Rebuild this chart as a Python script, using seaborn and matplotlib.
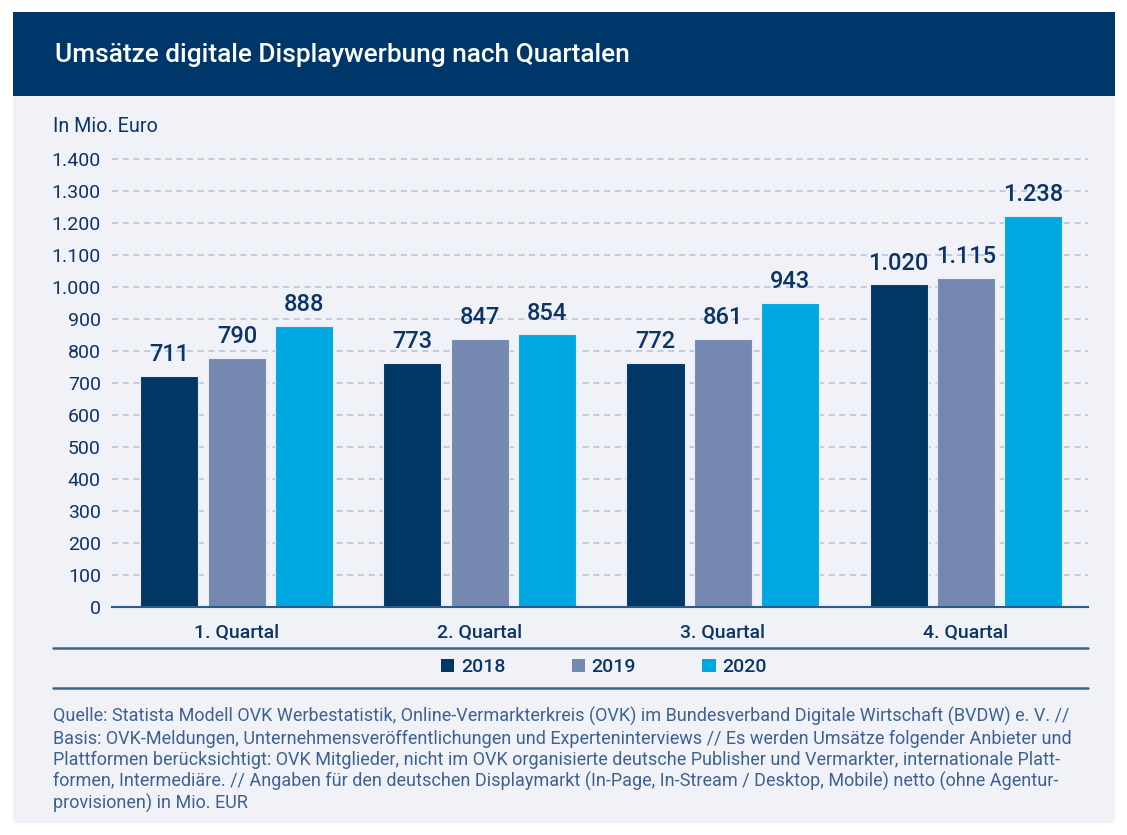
import matplotlib
matplotlib.use("Agg")
import matplotlib.pyplot as plt
from matplotlib.patches import Rectangle, Patch
from matplotlib.lines import Line2D
import seaborn as sns
import pandas as pd

# ---- data ----
quarters = ["1. Quartal", "2. Quartal", "3. Quartal", "4. Quartal"]
years = ["2018", "2019", "2020"]
# bar heights as drawn in the picture
bars_2018 = [723, 764, 764, 1008]
bars_2019 = [779, 839, 839, 1029]
bars_2020 = [879, 852, 951, 1223]
# value labels printed above the bars
labels_2018 = ["711", "773", "772", "1.020"]
labels_2019 = ["790", "847", "861", "1.115"]
labels_2020 = ["888", "854", "943", "1.238"]
y_ticks = [0, 100, 200, 300, 400, 500, 600, 700, 800, 900, 1000, 1100, 1200, 1300, 1400]
y_tick_labels = ["0", "100", "200", "300", "400", "500", "600", "700", "800", "900",
                 "1.000", "1.100", "1.200", "1.300", "1.400"]

title = "Umsätze digitale Displaywerbung nach Quartalen"
unit = "In Mio. Euro"
footer = [
    "Quelle: Statista Modell OVK Werbestatistik, Online-Vermarkterkreis (OVK) im Bundesverband Digitale Wirtschaft (BVDW) e. V. //",
    "Basis: OVK-Meldungen, Unternehmensveröffentlichungen und Experteninterviews // Es werden Umsätze folgender Anbieter und",
    "Plattformen berücksichtigt: OVK Mitglieder, nicht im OVK organisierte deutsche Publisher und Vermarkter, internationale Platt-",
    "formen, Intermediäre. // Angaben für den deutschen Displaymarkt (In-Page, In-Stream / Desktop, Mobile) netto (ohne Agentur-",
    "provisionen) in Mio. EUR",
]

colors = ["#003764", "#7589b0", "#00a8e2"]
NAVY = "#0b3566"
HEADER = "#00376a"
PANEL = "#f0f2f8"
FOOT = "#3d6190"
GRID = "#b9c0d8"

sns.set_theme(style="white")
plt.rcParams["font.family"] = ["Roboto", "DejaVu Sans"]

W, H = 1127, 835
fig = plt.figure(figsize=(W / 100, H / 100), dpi=100)
fig.patch.set_facecolor("white")

def fx(px):
    return px / W

def fy(py):
    return 1 - py / H

# panel and header
fig.patches.append(Rectangle((fx(13), fy(823)), fx(1115) - fx(13), fy(12) - fy(823),
                             transform=fig.transFigure, facecolor=PANEL, edgecolor="none", zorder=-10))
fig.patches.append(Rectangle((fx(13), fy(96)), fx(1115) - fx(13), fy(12) - fy(96),
                             transform=fig.transFigure, facecolor=HEADER, edgecolor="none", zorder=-9))
fig.text(fx(55), fy(55), title, color="white", fontsize=18.9, fontweight="medium",
         va="center", ha="left")
fig.text(fx(53), fy(126), unit, color=NAVY, fontsize=14.2, va="center", ha="left")

# axes
ymax = 1450
px_per_unit = 0.32
ax_left, ax_right = 112, 1088
ax_bottom = 607
ax_top = ax_bottom - ymax * px_per_unit
ax = fig.add_axes([fx(ax_left), fy(ax_bottom), fx(ax_right) - fx(ax_left), fy(ax_top) - fy(ax_bottom)])
ax.set_facecolor("none")
ax.set_zorder(5)

df = pd.DataFrame({
    "Quartal": quarters * 3,
    "Jahr": [years[0]] * 4 + [years[1]] * 4 + [years[2]] * 4,
    "Wert": bars_2018 + bars_2019 + bars_2020,
})
sns.barplot(data=df, x="Quartal", y="Wert", hue="Jahr", hue_order=years,
            palette=colors, saturation=1, width=0.833, gap=0.14, ax=ax, legend=False,
            edgecolor="#e8ecf4", linewidth=0.8, zorder=3)

for cont, labs in zip(ax.containers, [labels_2018, labels_2019, labels_2020]):
    ax.bar_label(cont, labels=labs, padding=7, color=NAVY, fontsize=17,
                 fontweight="medium")

ax.set_xlim(-0.514, 3.502)
ax.set_ylim(0, ymax)
ax.set_yticks(y_ticks)
ax.set_yticklabels(y_tick_labels)
ax.tick_params(axis="y", length=0, pad=8, labelsize=14, labelcolor=NAVY)
ax.tick_params(axis="x", length=0, pad=12, labelsize=14, labelcolor=NAVY)
for lab in ax.get_xticklabels():
    lab.set_fontweight("medium")
ax.set_xlabel("")
ax.set_ylabel("")
for gy in y_ticks[1:]:
    ax.axhline(gy, color=GRID, linestyle=(0, (4, 3)), linewidth=1.1, zorder=1)
for s in ["top", "right", "left"]:
    ax.spines[s].set_visible(False)
ax.spines["bottom"].set_color("#2e5a85")
ax.spines["bottom"].set_linewidth(1.5)
ax.spines["bottom"].set_zorder(4)

# separator lines
for ly in (647.5, 687.5):
    fig.add_artist(Line2D([fx(53), fx(1088)], [fy(ly), fy(ly)], color="#3b6390",
                          linewidth=1.8, transform=fig.transFigure))

# legend
handles = [Patch(facecolor=c, edgecolor="none") for c in colors]
leg = fig.legend(handles, years, loc="center", bbox_to_anchor=(fx(604), fy(667)),
                 ncol=3, frameon=False, handlelength=0.68, handleheight=0.68,
                 handletextpad=0.35, columnspacing=3.4, fontsize=14)
for t in leg.get_texts():
    t.set_color(NAVY)
    t.set_fontweight("medium")

# footer
for i, line in enumerate(footer):
    fig.text(fx(53), fy(722 + i * 21.6), line, color=FOOT, fontsize=13.0,
             va="baseline", ha="left")

fig.savefig("out.png", dpi=100, facecolor=fig.get_facecolor())
